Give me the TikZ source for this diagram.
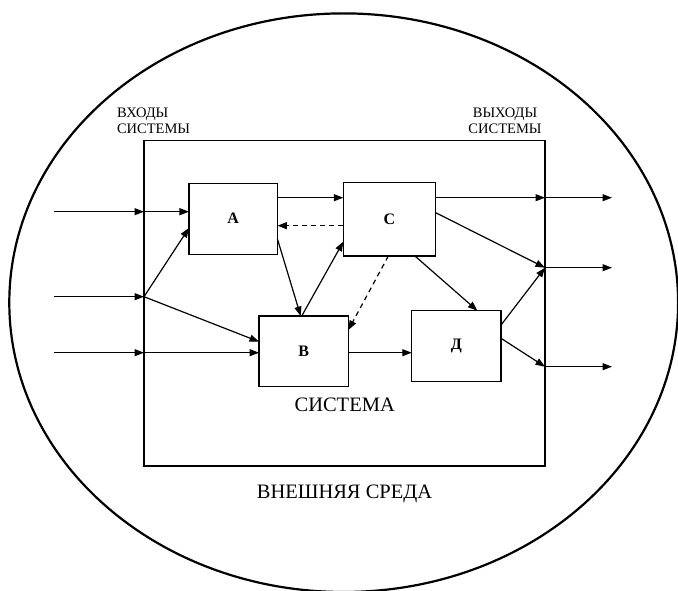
\documentclass[tikz,border=0pt]{standalone}
\usepackage{fontspec}
\setmainfont{Liberation Serif}
\usetikzlibrary{arrows.meta,calc}
\begin{document}
\begin{tikzpicture}[x=1pt,y=-1pt,
  every node/.style={inner sep=0pt, outer sep=0pt},
  arr/.style={line width=1.2pt,-{Triangle[length=9.5pt,width=7pt]}},
  dsh/.style={arr, dash pattern=on 5pt off 4pt},
  blk/.style={draw, line width=1.2pt, font=\fontsize{16}{18}\selectfont\bfseries},
  lbl/.style={font=\fontsize{14.5}{16.3}\selectfont},
  big/.style={font=\fontsize{20.5}{24}\selectfont},
]
\useasboundingbox (0,0) rectangle (678,591);
\clip (0,0) rectangle (678,591);
\draw[line width=2.2pt] (343.7,302.7) ellipse [x radius=334.4, y radius=289.3];

\node[draw, line width=1.2pt, minimum width=401, minimum height=325.3, anchor=north west] (sys) at (144,140.7) {};

\node[blk, minimum width=88.5, minimum height=71] (A) at (233.2,218.7) {А};
\node[blk, minimum width=92.4, minimum height=73.3] (C) at (389.5,219.4) {С};
\node[blk, minimum width=89.3, minimum height=70.7] (B) at (303.7,351.4) {В};
\node[blk, minimum width=89.3, minimum height=71] (D) at (456.4,346.2) {Д};

\coordinate (i1) at (54,211.7);  \coordinate (s1) at (144,211.7);
\coordinate (i2) at (54,296.7);  \coordinate (s2) at (144,296.7);
\coordinate (i3) at (54,352.7);  \coordinate (s3) at (144,352.7);
\coordinate (o1) at (545,197.7); \coordinate (e1) at (612,197.7);
\coordinate (o2) at (545,267.7); \coordinate (e2) at (612,267.7);
\coordinate (o3) at (545,366.7); \coordinate (e3) at (612,366.7);

% inputs
\draw[arr] (i1) -- (s1);
\draw[arr] (s1) -- (s1 -| A.west);
\draw[arr] (i2) -- (s2);
\draw[arr] (s2) -- ($(A.west)+(0,9.3)$);
\draw[arr] (s2) -- ($(B.west)+(0,-9.7)$);
\draw[arr] (i3) -- (s3);
\draw[arr] (s3) -- (s3 -| B.west);

% internal
\draw[arr] ($(A.east)+(0,-21)$) coordinate (ac) -- (ac -| C.west);
\draw[dsh] ($(C.west)+(0,6.3)$) coordinate (ca) -- (ca -| A.east);
\draw[arr] ($(A.east)+(0,20.3)$) -- ($(B.north)+(-3,0)$);
\draw[arr] ($(B.north)+(-2,0)$) -- ($(C.west)+(0,22.3)$);
\draw[dsh] ($(C.south)+(-1.2,0)$) -- ($(B.east)+(0,-21.4)$);
\draw[arr] ($(B.east)+(0,1.3)$) coordinate (bd) -- (bd -| D.west);
\draw[arr] ($(C.south)+(25.5,0)$) -- ($(D.north)+(21,0)$);

% outputs
\draw[arr] (C.east |- o1) -- (o1);
\draw[arr] (o1) -- (e1);
\draw[arr] ($(C.east)+(0,-6.7)$) -- (o2);
\draw[arr] ($(D.east)+(0,-21.2)$) -- (o2);
\draw[arr] ($(D.east)+(0,-7.9)$) -- (o3);
\draw[arr] (o2) -- (e2);
\draw[arr] (o3) -- (e3);

% labels
\node[lbl, anchor=base west, align=left] (inl) at (117,133.8) {ВХОДЫ\\СИСТЕМЫ};
\node[lbl, anchor=base, align=center] (outl) at (505,133.8) {ВЫХОДЫ\\СИСТЕМЫ};
\node[big, anchor=base] (sysl) at (344.7,411.8) {СИСТЕМА};
\node[big, anchor=base] (env) at (344.5,498.5) {ВНЕШНЯЯ СРЕДА};
\end{tikzpicture}
\end{document}
